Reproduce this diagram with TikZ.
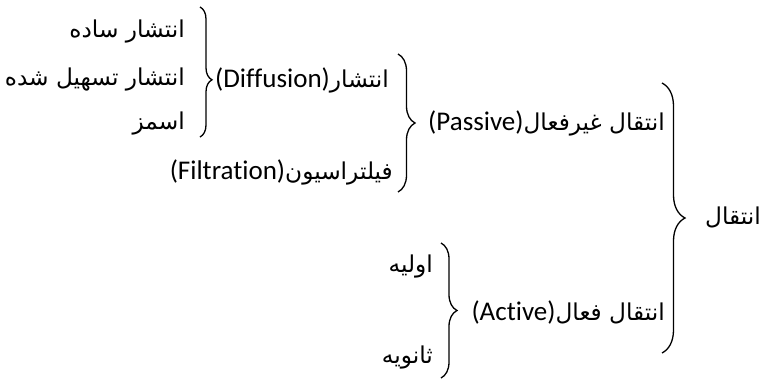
\documentclass[tikz,border=0pt]{standalone}
\usepackage{fontspec}
\setmainfont{Carlito}[Ligatures = NoCommon]
\newfontfamily\farsi[Script = Arabic, Scale = 0.86]{DejaVu Sans}
\TeXXeTstate=1
\usetikzlibrary{decorations.pathreplacing}
\tikzset{txt/.style = {inner sep = 0, font = \fontsize{27}{30}\selectfont}}
\tikzset{curly/.style = {decorate, decoration = {brace, amplitude = #1}, line width = 1.3pt}}
\newcommand{\fa}[1]{{\farsi\beginR #1\endR}}

\begin{document}
\begin{tikzpicture}[x = 1pt, y = -1pt]
  \useasboundingbox (0, 0) rectangle (774, 381);

  % leaves
  \node [txt, anchor = east] (simple) at (185, 32) {\fa{انتشار ساده}};
  \node [txt, anchor = east] (facil) at (185, 80) {\fa{انتشار تسهیل شده}};
  \node [txt, anchor = east] (osmo) at (185, 124) {\fa{اسمز}};
  \node [txt, anchor = east] (prim) at (433, 267) {\fa{اولیه}};
  \node [txt, anchor = east] (sec) at (433, 358) {\fa{ثانویه}};

  % middle levels
  \node [txt, anchor = west] (diff) at (215, 80) {(Diffusion)\fa{انتشار}};
  \node [txt, anchor = east] (filt) at (393, 172) {(Filtration)\fa{فیلتراسیون}};
  \node [txt, anchor = east] (pass) at (665, 123) {(Passive)\fa{انتقال غیرفعال}};
  \node [txt, anchor = east] (act) at (665, 312) {(Active)\fa{انتقال فعال}};
  \node [txt, anchor = west] (trans) at (705, 217) {\fa{انتقال}};

  % braces
  \coordinate (difftop) at (200, 7);
  \coordinate (diffbot) at (200, 137);
  \draw [curly = 12, decoration = {aspect = 0.56}] (difftop) -- (diffbot);

  \coordinate (passtop) at (398, 54);
  \coordinate (passbot) at (398, 192);
  \draw [curly = 17] (passtop) -- (passbot);

  \coordinate (acttop) at (441, 243);
  \coordinate (actbot) at (441, 378);
  \draw [curly = 16] (acttop) -- (actbot);

  \coordinate (transtop) at (662, 83);
  \coordinate (transbot) at (662, 353);
  \draw [curly = 23] (transtop) -- (transbot);
\end{tikzpicture}
\end{document}
